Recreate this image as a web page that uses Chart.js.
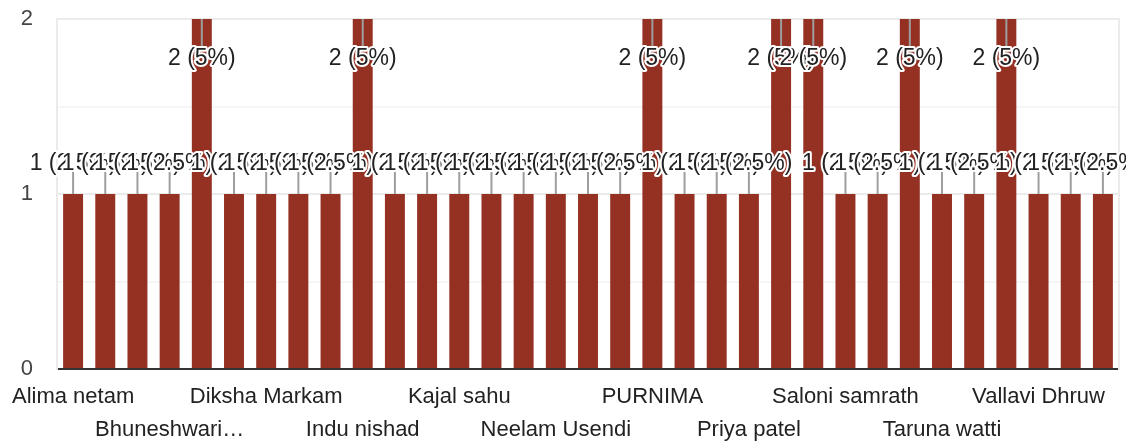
<!DOCTYPE html>
<html>
<head>
<meta charset="utf-8">
<script src="https://cdn.jsdelivr.net/npm/chart.js@4/dist/chart.umd.min.js"></script>
<style>
  html, body { margin: 0; padding: 0; background: #fff; }
  #wrap { width: 1126px; height: 443px; }
</style>
</head>
<body>
<div id="wrap"><canvas id="myChart"></canvas></div>
<script>
// names: only every third one is printed on the axis, the rest are unreadable
let names = [
  'Alima netam', '', '', 'Bhuneshwari…', '', '',
  'Diksha Markam', '', '', 'Indu nishad', '', '',
  'Kajal sahu', '', '', 'Neelam Usendi', '', '',
  'PURNIMA', '', '', 'Priya patel', '', '',
  'Saloni samrath', '', '', 'Taruna watti', '', '',
  'Vallavi Dhruw', '', ''
];
let counts = [1, 1, 1, 1, 2, 1, 1, 1, 1, 2, 1, 1, 1, 1, 1, 1, 1, 1, 2, 1, 1, 1, 2, 2, 1, 1, 2, 1, 1, 2, 1, 1, 1];
let yTicks = [0, 1, 2];

let total = counts.reduce((a, b) => a + b, 0);
let barColor = '#943123';
let font = 'Arial, "Liberation Sans", sans-serif';

// value labels "n (p%)" with leader lines, drawn like the forms summary chart
let valueLabels = {
  id: 'valueLabels',
  afterDatasetsDraw(chart) {
    let ctx = chart.ctx;
    let area = chart.chartArea;
    let bars = chart.getDatasetMeta(0).data;
    let spots = bars.map((bar, i) => {
      let roomAbove = bar.y - area.top > 40;
      let cy = roomAbove ? bar.y - 30 : area.top + 40;
      return { x: bar.x, top: bar.y, cy: cy, above: roomAbove, v: counts[i] };
    });

    ctx.save();
    // leader lines first
    ctx.strokeStyle = '#9e9e9e';
    ctx.lineWidth = 2;
    spots.forEach(s => {
      ctx.beginPath();
      if (s.above) {
        ctx.moveTo(s.x, s.cy + 8);
        ctx.lineTo(s.x, s.top);
      } else {
        ctx.moveTo(s.x, area.top);
        ctx.lineTo(s.x, s.cy - 12);
      }
      ctx.stroke();
    });

    // text with white halo
    ctx.font = '23px ' + font;
    ctx.textAlign = 'center';
    ctx.textBaseline = 'middle';
    ctx.lineJoin = 'round';
    spots.forEach(s => {
      let pct = Math.round(s.v / total * 1000) / 10;
      let txt = s.v + ' (' + pct + '%)';
      ctx.strokeStyle = '#fff';
      ctx.lineWidth = 4;
      ctx.strokeText(txt, s.x, s.cy);
      ctx.fillStyle = '#222';
      ctx.fillText(txt, s.x, s.cy);
    });
    ctx.restore();
  }
};

let ctx = document.getElementById('myChart').getContext('2d');

let myChart = new Chart(ctx, {
  type: 'bar',
  data: {
    labels: names,
    datasets: [{
      data: counts,
      backgroundColor: barColor,
      barPercentage: 0.62,
      categoryPercentage: 1
    }]
  },
  options: {
    responsive: true,
    maintainAspectRatio: false,
    animation: false,
    layout: { padding: { left: 21, right: 7, top: 19, bottom: 0 } },
    plugins: {
      legend: { display: false },
      tooltip: { enabled: false }
    },
    scales: {
      x: {
        grid: { display: false },
        border: { display: true, color: '#333', width: 2 },
        afterFit: function (scale) {
          // labels may hang over the edges, as in the original
          scale.paddingLeft = 0;
          scale.paddingRight = 0;
          scale.height = 74;
        },
        ticks: {
          autoSkip: false,
          maxRotation: 0,
          minRotation: 0,
          padding: 3,
          color: '#222',
          font: { family: font, size: 22, lineHeight: 1.5 },
          callback: function (value, index) {
            let name = names[index];
            if (!name) return '';
            return Math.floor(index / 3) % 2 === 0 ? name : ['', name];
          }
        }
      },
      y: {
        min: 0,
        max: 2,
        border: { display: true, color: '#ebebeb', width: 2 },
        afterFit: function (scale) {
          scale.paddingTop = 0;
          scale.paddingBottom = 0;
          scale.width = 36;
        },
        grid: {
          drawTicks: false,
          lineWidth: 2,
          color: c => (yTicks.includes(c.tick.value) ? '#ebebeb' : '#f6f6f6')
        },
        ticks: {
          stepSize: 0.5,
          padding: 24,
          color: '#444',
          font: { family: font, size: 22 },
          callback: v => (yTicks.includes(v) ? v : '')
        }
      },
      yRight: {
        position: 'right',
        min: 0,
        max: 2,
        border: { display: true, color: '#ebebeb', width: 2 },
        grid: { display: false, drawTicks: false },
        ticks: { display: false }
      }
    }
  },
  plugins: [valueLabels]
});
</script>
</body>
</html>
